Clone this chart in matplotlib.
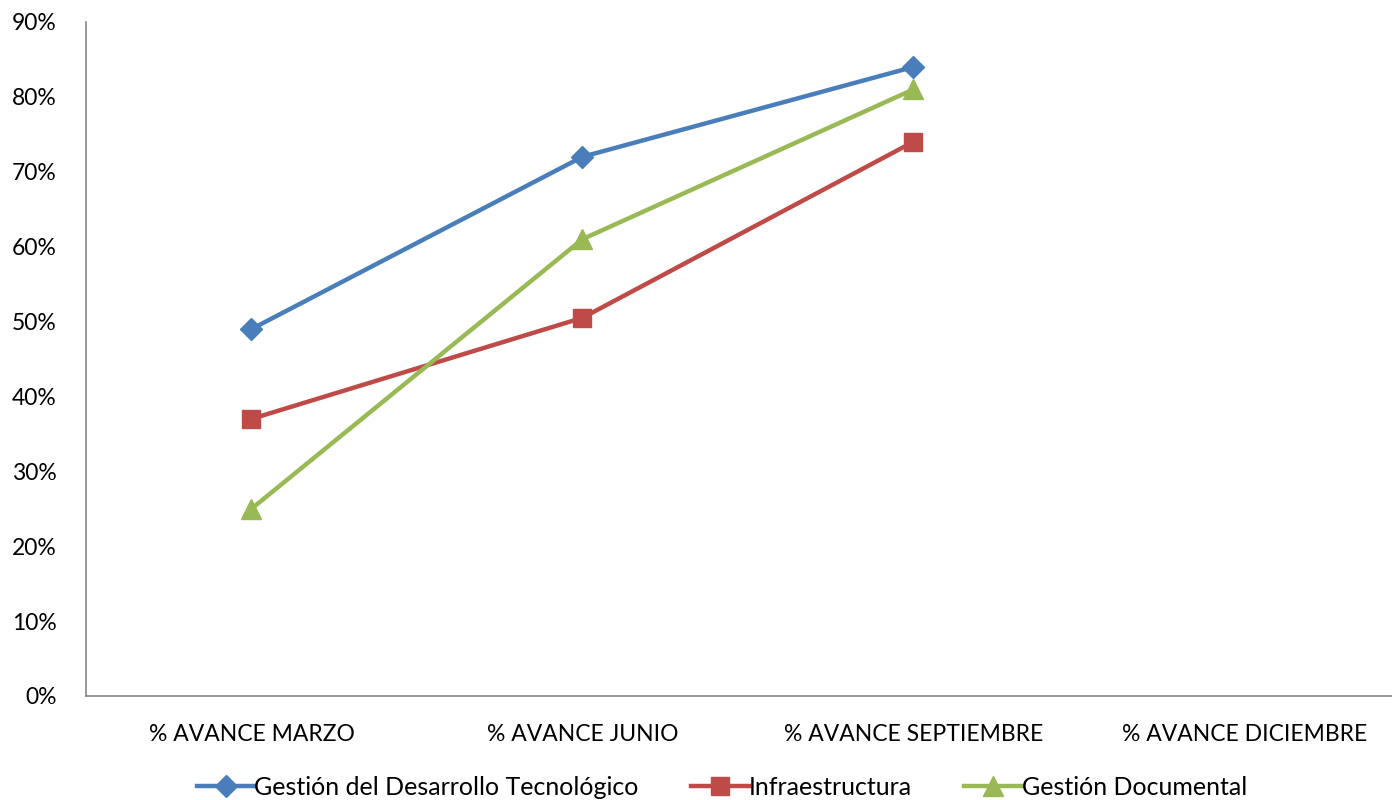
import matplotlib
matplotlib.use("Agg")
import matplotlib.pyplot as plt
from matplotlib.ticker import PercentFormatter

plt.rcParams["font.family"] = ["Lato", "DejaVu Sans"]

CATEGORIES = ["% AVANCE MARZO", "% AVANCE JUNIO", "% AVANCE SEPTIEMBRE", "% AVANCE DICIEMBRE"]
DESARROLLO = [49, 72, 84]
INFRA = [37, 50.5, 74]
DOCUMENTAL = [25, 61, 81]

SERIES = [
    ("Gestión del Desarrollo Tecnológico", DESARROLLO, "#4a7ebb", "D", 11),
    ("Infraestructura", INFRA, "#be4b48", "s", 13),
    ("Gestión Documental", DOCUMENTAL, "#98b954", "^", 14),
]

fig = plt.figure(figsize=(13.92, 8.0), dpi=100)
ax = fig.add_axes([86 / 1392, 0.13, 1 - 86 / 1392, 0.9725 - 0.13])

for label, vals, color, marker, ms in SERIES:
    ax.plot(range(len(vals)), vals, color=color, lw=3.2, marker=marker,
            markersize=ms, markerfacecolor=color, markeredgecolor=color,
            label=label)

ax.set_xlim(-0.5, 3.446)
ax.set_ylim(0, 90)
ax.set_yticks(range(0, 91, 10))
ax.yaxis.set_major_formatter(PercentFormatter(decimals=0))
ax.set_xticks(range(len(CATEGORIES)))
ax.set_xticklabels(CATEGORIES)
ax.tick_params(axis="both", length=0, labelsize=16.5, colors="black")
ax.tick_params(axis="x", pad=20)
ax.tick_params(axis="y", pad=21)

for side in ["top", "right"]:
    ax.spines[side].set_visible(False)
for side in ["left", "bottom"]:
    ax.spines[side].set_color("#868686")
    ax.spines[side].set_linewidth(1.2)

ax.legend(loc="center", bbox_to_anchor=(0.487, -0.136), ncol=3,
          frameon=False, fontsize=18, handlelength=2.3, handletextpad=0.0,
          columnspacing=2.1, borderpad=0)

fig.savefig("out.png", dpi=100)
